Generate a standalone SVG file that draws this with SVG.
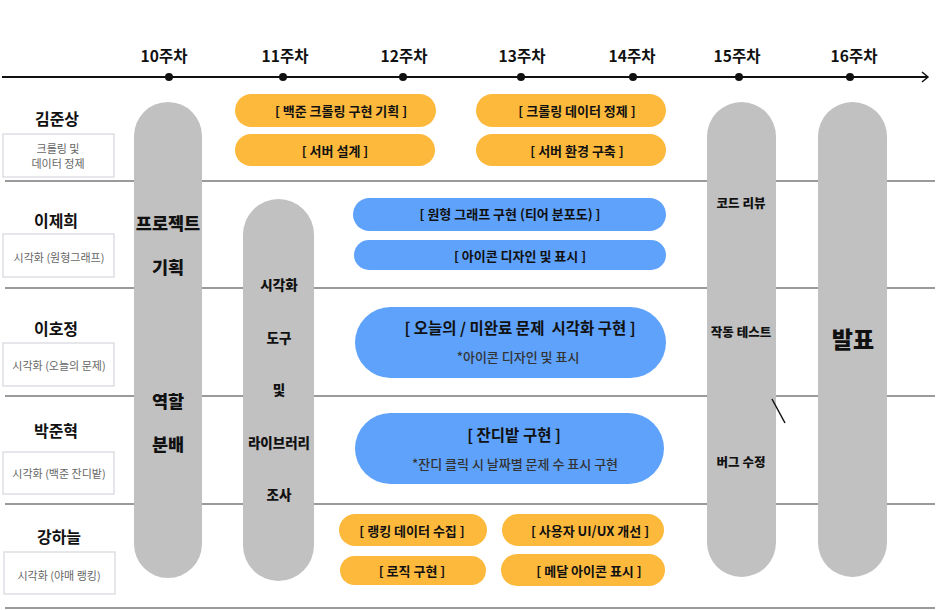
<svg xmlns="http://www.w3.org/2000/svg" width="940" height="610" viewBox="0 0 940 610">
<style>
text{font-family:"Noto Sans CJK KR","Noto Sans",sans-serif;text-anchor:middle;dominant-baseline:central}
.wk{font-size:15.5px;font-weight:700;fill:#111}
.nm{font-size:16px;font-weight:700;fill:#111}
.sub{font-size:11px;fill:#666}
.box{fill:#fff;stroke:#d4d8dc;stroke-width:1.2}
.sep{stroke:#9a9a9a;stroke-width:2}
.pil{fill:#c1c1c1}
.pt{font-weight:900;fill:#111}
.or{fill:#fdb93c}
.bl{fill:#5ea2fb}
.pl{font-size:13px;font-weight:700;fill:#111}
.bt{font-size:15.5px;font-weight:700;fill:#111;white-space:pre}
.bs{font-size:13px;font-weight:500;fill:#333}
</style>
<rect width="940" height="610" fill="#fff"/>
<g id="separators">
<line class="sep" x1="5" y1="181" x2="935" y2="181"/>
<line class="sep" x1="5" y1="288" x2="935" y2="288"/>
<line class="sep" x1="5" y1="396" x2="935" y2="396"/>
<line class="sep" x1="5" y1="504" x2="935" y2="504"/>
<line class="sep" x1="5" y1="608" x2="935" y2="608"/>
</g>
<g id="timeline">
<line x1="2" y1="77" x2="928" y2="77" stroke="#111" stroke-width="2"/>
<polyline points="922,72 928,77 922,82" fill="none" stroke="#111" stroke-width="1.5"/>
<circle cx="169" cy="77" r="4" fill="#111"/><text class="wk" x="164" y="55">10주차</text>
<circle cx="283" cy="77" r="4" fill="#111"/><text class="wk" x="285" y="55">11주차</text>
<circle cx="403" cy="77" r="4" fill="#111"/><text class="wk" x="404" y="55">12주차</text>
<circle cx="521" cy="77" r="4" fill="#111"/><text class="wk" x="522" y="55">13주차</text>
<circle cx="633" cy="77" r="4" fill="#111"/><text class="wk" x="632" y="55">14주차</text>
<circle cx="739" cy="77" r="4" fill="#111"/><text class="wk" x="737" y="55">15주차</text>
<circle cx="850" cy="77" r="4" fill="#111"/><text class="wk" x="854" y="55">16주차</text>
</g>
<g id="row-kim">
<text class="nm" x="57" y="118">김준상</text>
<rect class="box" x="3" y="134" width="111" height="43"/>
<text class="sub" x="58" y="148">크롤링 및</text>
<text class="sub" x="58" y="163">데이터 정제</text>
</g>
<g id="row-lee1">
<text class="nm" x="56" y="220">이제희</text>
<rect class="box" x="3" y="234" width="111" height="43"/>
<text class="sub" x="59" y="257">시각화 (원형그래프)</text>
</g>
<g id="row-lee2">
<text class="nm" x="56" y="328">이호정</text>
<rect class="box" x="3" y="343" width="111" height="43"/>
<text class="sub" x="59" y="365">시각화 (오늘의 문제)</text>
</g>
<g id="row-park">
<text class="nm" x="56" y="430">박준혁</text>
<rect class="box" x="3" y="452" width="111" height="42"/>
<text class="sub" x="59" y="473">시각화 (백준 잔디밭)</text>
</g>
<g id="row-kang">
<text class="nm" x="59" y="536">강하늘</text>
<rect class="box" x="4" y="552" width="111" height="42"/>
<text class="sub" x="59" y="575">시각화 (야매 랭킹)</text>
</g>
<g id="pillar-10">
<rect class="pil" x="134" y="102" width="68" height="476" rx="34"/>
<text class="pt" x="168" y="222" font-size="17.5">프로젝트</text>
<text class="pt" x="168" y="266" font-size="17.5">기획</text>
<text class="pt" x="168" y="400" font-size="17.5">역할</text>
<text class="pt" x="168" y="443" font-size="17.5">분배</text>
</g>
<g id="pillar-11">
<rect class="pil" x="243" y="199" width="71" height="382" rx="35.5"/>
<text class="pt" x="279" y="284" font-size="13.5">시각화</text>
<text class="pt" x="279" y="337" font-size="13.5">도구</text>
<text class="pt" x="279" y="389" font-size="13.5">및</text>
<text class="pt" x="279" y="442" font-size="13.5">라이브러리</text>
<text class="pt" x="279" y="494" font-size="13.5">조사</text>
</g>
<g id="pillar-15">
<rect class="pil" x="707" y="102" width="69" height="475" rx="34.5"/>
<text class="pt" x="741" y="202" font-size="12.5">코드 리뷰</text>
<text class="pt" x="741" y="331" font-size="12.5">작동 테스트</text>
<text class="pt" x="741" y="461" font-size="12.5">버그 수정</text>
</g>
<g id="pillar-16">
<rect class="pil" x="818" y="102" width="69" height="475" rx="34.5"/>
<text class="pt" x="853" y="338" font-size="23">발표</text>
</g>
<g id="task-kim">
<rect class="or" x="235" y="94" width="201" height="33" rx="16.5"/><text class="pl" x="341" y="110">[ 백준 크롤링 구현 기획 ]</text>
<rect class="or" x="235" y="134" width="200" height="32" rx="16"/><text class="pl" x="335" y="150">[ 서버 설계 ]</text>
<rect class="or" x="476" y="94" width="190" height="33" rx="16.5"/><text class="pl" x="577" y="110">[ 크롤링 데이터 정제 ]</text>
<rect class="or" x="476" y="134" width="190" height="32" rx="16"/><text class="pl" x="577" y="150">[ 서버 환경 구축 ]</text>
</g>
<g id="task-lee1">
<rect class="bl" x="353" y="198" width="313" height="33" rx="16.5"/><text class="pl" x="510" y="213">[ 원형 그래프 구현 (티어 분포도) ]</text>
<rect class="bl" x="354" y="240" width="312" height="30" rx="15"/><text class="pl" x="520" y="255">[ 아이콘 디자인 및 표시 ]</text>
</g>
<g id="task-lee2">
<rect class="bl" x="355" y="307" width="311" height="71" rx="35.5"/>
<text class="bt" x="520" y="327" xml:space="preserve">[ 오늘의 / 미완료 문제  시각화 구현 ]</text>
<text class="bs" x="518" y="356">*아이콘 디자인 및 표시</text>
</g>
<g id="task-park">
<rect class="bl" x="355" y="413" width="309" height="71" rx="35.5"/>
<text class="bt" x="514" y="434">[ 잔디밭 구현 ]</text>
<text class="bs" x="515" y="463">*잔디 클릭 시 날짜별 문제 수 표시 구현</text>
</g>
<g id="task-kang">
<rect class="or" x="339" y="514" width="148" height="32" rx="16"/><text class="pl" x="412" y="530">[ 랭킹 데이터 수집 ]</text>
<rect class="or" x="340" y="556" width="146" height="29" rx="14.5"/><text class="pl" x="412" y="570">[ 로직 구현 ]</text>
<rect class="or" x="502" y="514" width="162" height="32" rx="16"/><text class="pl" x="590" y="530">[ 사용자 UI/UX 개선 ]</text>
<rect class="or" x="501" y="554" width="164" height="32" rx="16"/><text class="pl" x="589" y="570">[ 메달 아이콘 표시 ]</text>
</g>
<g id="mark">
<line x1="772" y1="399" x2="785" y2="423" stroke="#111" stroke-width="1.5"/>
</g>
</svg>
